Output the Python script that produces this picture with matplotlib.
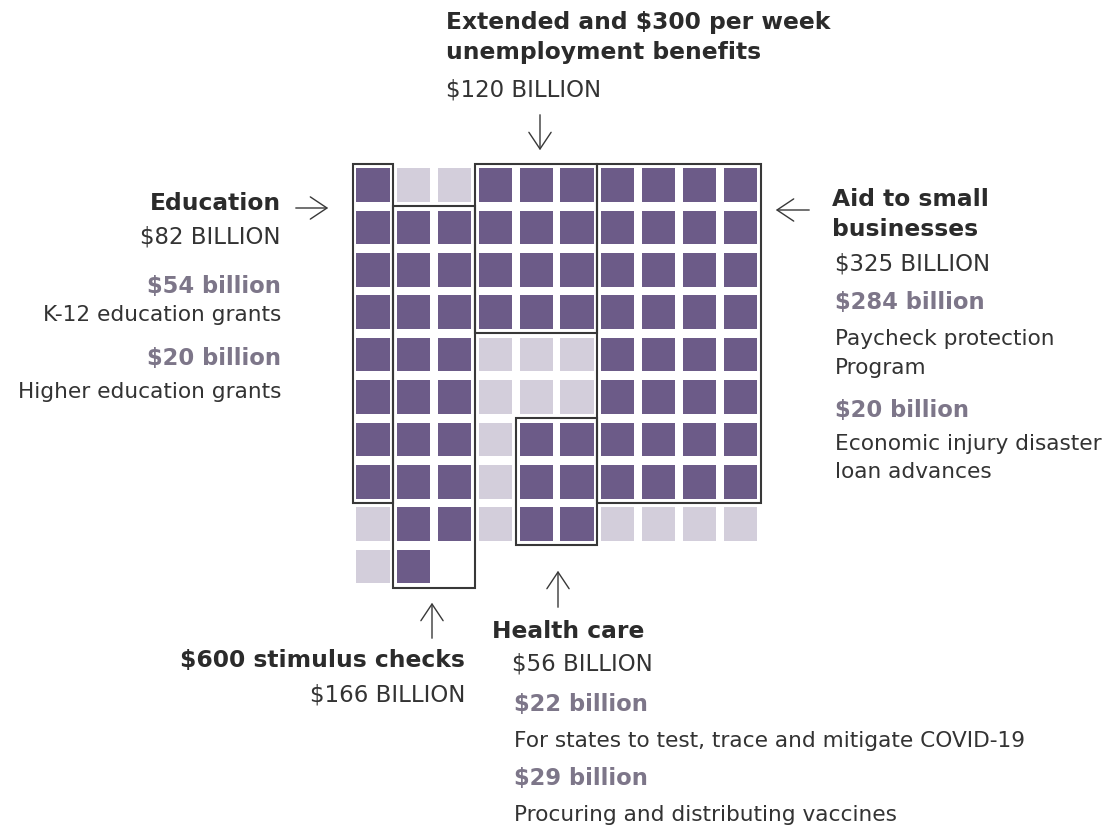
import matplotlib
matplotlib.use("Agg")
import matplotlib.pyplot as plt
from matplotlib.patches import Rectangle, FancyArrowPatch

# Spending categories (billions of dollars); one square = $10 billion
categories = ["Education", "$600 stimulus checks",
              "Extended and $300 per week unemployment benefits",
              "Aid to small businesses", "Health care"]
codes = ["E", "X", "U", "S", "H"]
amounts = [82, 166, 120, 325, 56]

# Square grid: letter = highlighted category, "." = other spending, " " = none
grid_rows = [
    "E..UUUSSSS",
    "EXXUUUSSSS",
    "EXXUUUSSSS",
    "EXXUUUSSSS",
    "EXX...SSSS",
    "EXX...SSSS",
    "EXX.HHSSSS",
    "EXX.HHSSSS",
    ".XX.HH....",
    ".X        ",
]

DARK = "#6c5b88"
LIGHT = "#d3cedb"
LINE = "#383838"
HEAD = "#2b2b2b"
BODY = "#333333"
SUB = "#7d7689"

W, H = 1102, 826
fig = plt.figure(figsize=(W / 100, H / 100), dpi=100)
fig.patch.set_facecolor("white")

# grid axes: one data unit per cell step
x0, dx = 373.0, 40.8
y0, dy = 185.0, 42.4
ax = fig.add_axes([0, 0, 1, 1])
ax.set_xlim((0 - x0) / dx, (W - x0) / dx)
ax.set_ylim((H - y0) / dy, (0 - y0) / dy)
ax.axis("off")

cw, ch = 0.81, 0.79
cells = {c: [] for c in codes}
for r, row in enumerate(grid_rows):
    for c, code in enumerate(row):
        if code == " ":
            continue
        color = LIGHT if code == "." else DARK
        ax.add_patch(Rectangle((c - cw / 2, r - ch / 2), cw, ch,
                               facecolor=color, edgecolor="none"))
        if code in cells:
            cells[code].append((c, r))

# outline each category's block
for code in codes:
    pts = cells[code]
    cs = [p[0] for p in pts]
    rs = [p[1] for p in pts]
    ax.add_patch(Rectangle((min(cs) - 0.5, min(rs) - 0.5),
                           max(cs) - min(cs) + 1, max(rs) - min(rs) + 1,
                           facecolor="none", edgecolor=LINE, lw=1.5))


def px(x, y):
    return x / W, 1 - y / H


STYLES = {
    "head": dict(color=HEAD, weight="bold", size=16.8),
    "amt": dict(color=BODY, weight="normal", size=16.5),
    "sub": dict(color=SUB, weight="bold", size=16.3),
    "body": dict(color=BODY, weight="normal", size=15.6),
}


def label(x, y, s, kind="body", ha="left"):
    fig.text(*px(x, y), s, ha=ha, va="center", family="DejaVu Sans",
             **STYLES[kind])


def arrow(x1, y1, x2, y2):
    fig.add_artist(FancyArrowPatch(
        px(x1, y1), px(x2, y2), transform=fig.transFigure,
        arrowstyle="->,head_length=12,head_width=8", color=LINE, lw=1.0,
        mutation_scale=1))


# Unemployment
label(446, 22, "Extended and $300 per week", "head")
label(446, 52, "unemployment benefits", "head")
label(446, 90, "$120 BILLION", "amt")
arrow(540, 112, 540, 153)

# Education
label(281, 203, "Education", "head", ha="right")
label(281, 237, "$82 BILLION", "amt", ha="right")
label(281, 286, "$54 billion", "sub", ha="right")
label(281, 315, "K-12 education grants", "body", ha="right")
label(281, 358, "$20 billion", "sub", ha="right")
label(281, 392, "Higher education grants", "body", ha="right")
arrow(293, 208, 331, 208)

# Small businesses
label(832, 200, "Aid to small", "head")
label(832, 229, "businesses", "head")
label(835, 264, "$325 BILLION", "amt")
label(835, 303, "$284 billion", "sub")
label(835, 339, "Paycheck protection", "body")
label(835, 368, "Program", "body")
label(835, 410, "$20 billion", "sub")
label(835, 444, "Economic injury disaster", "body")
label(835, 472, "loan advances", "body")
arrow(812, 210, 773, 210)

# Stimulus checks
label(465, 661, "$600 stimulus checks", "head", ha="right")
label(465, 695, "$166 BILLION", "amt", ha="right")
arrow(432, 641, 432, 600)

# Health care
label(492, 632, "Health care", "head")
label(512, 664, "$56 BILLION", "amt")
label(514, 705, "$22 billion", "sub")
label(514, 741, "For states to test, trace and mitigate COVID-19", "body")
label(514, 779, "$29 billion", "sub")
label(514, 815, "Procuring and distributing vaccines", "body")
arrow(558, 610, 558, 568)

fig.savefig("out.png", dpi=100, facecolor="white")
